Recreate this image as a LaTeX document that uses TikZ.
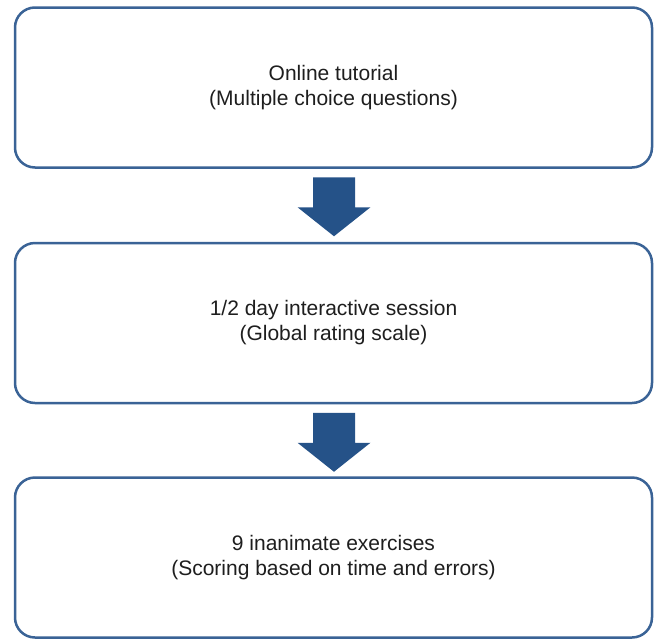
\documentclass[tikz,border=0pt]{standalone}
\usepackage{fontspec}
\setmainfont{Liberation Sans}
\usetikzlibrary{calc}
\definecolor{boxline}{RGB}{58,99,150}
\definecolor{arrowblue}{RGB}{37,82,136}
\definecolor{textgray}{RGB}{30,30,30}
\tikzset{
  stagebox/.style={draw=boxline, line width=2.5pt, rounded corners=20pt,
    fill=white, minimum width=637pt, minimum height=160pt,
    inner sep=0pt, align=center, text=textgray,
    font=\fontsize{21}{25}\selectfont},
  blockarrow/.pic={
    \fill[arrowblue] (-21,0) -- (21,0) -- (21,-30) -- (36.5,-30)
      -- (0,-59) -- (-36.5,-30) -- (-21,-30) -- cycle;
  }
}
\begin{document}
\begin{tikzpicture}[x=1pt,y=1pt]
  \useasboundingbox (0,0) rectangle (654,-638);
  % the three stages of the training programme
  \node[stagebox] (b1) at (333.5,-87.5) {Online tutorial\\(Multiple choice questions)};
  \node[stagebox] (b2) at (333.5,-323) {1/2 day interactive session\\(Global rating scale)};
  \node[stagebox] (b3) at (333.5,-557.5) {9 inanimate exercises\\(Scoring based on time and errors)};
  % block arrows between the stages
  \pic at ($(b1.south)+(0.5,-8.5)$) {blockarrow};
  \pic at ($(b2.south)+(0.5,-8.5)$) {blockarrow};
\end{tikzpicture}
\end{document}
